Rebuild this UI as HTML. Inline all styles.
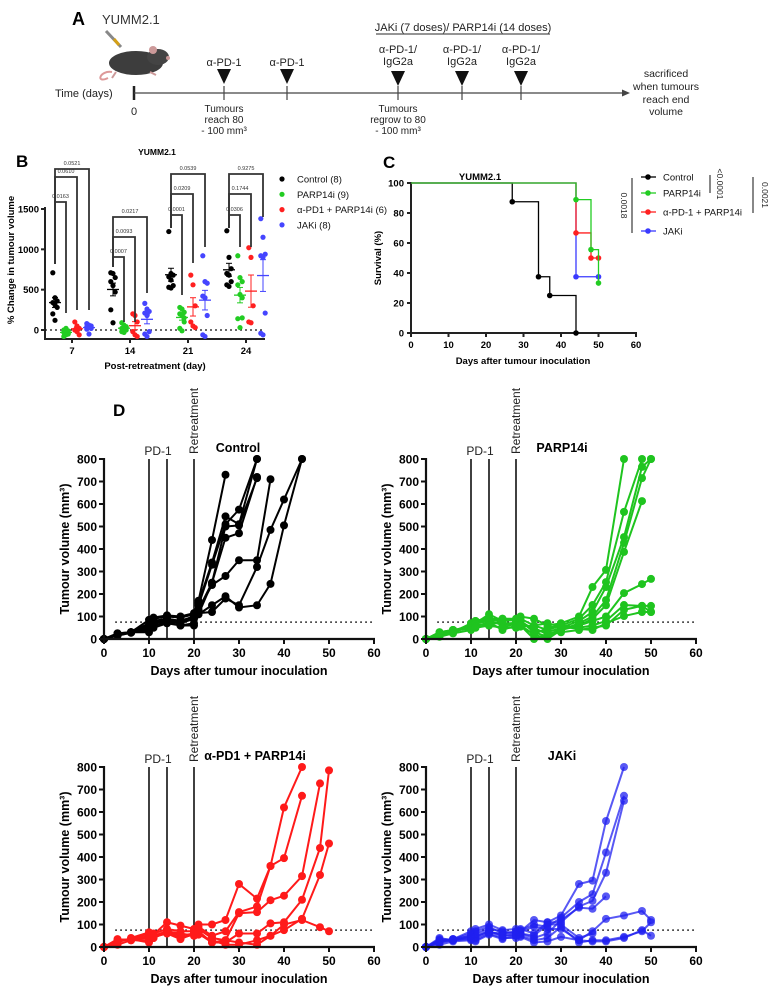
<!DOCTYPE html>
<html><head><meta charset="utf-8"><style>
html,body{margin:0;padding:0;background:#fff;}
svg{display:block;font-family:"Liberation Sans",sans-serif;}
.n{font-family:"Liberation Sans Narrow","Liberation Sans",sans-serif;}
</style></head><body>
<svg id="fig" width="781" height="999" viewBox="0 0 781 999" xmlns="http://www.w3.org/2000/svg">
<!-- Panel A schematic -->
<g id="panelA">
  <text x="72" y="25" font-size="18" font-weight="bold">A</text>
  <text x="102" y="24" font-size="13" class="n" fill="#333">YUMM2.1</text>
  <g>
    <line x1="106" y1="31" x2="121" y2="47" stroke="#888" stroke-width="3"/>
    <line x1="114" y1="39" x2="119" y2="45" stroke="#d4a017" stroke-width="3"/>
    <path d="M108 78 C 95 84, 100 70, 112 72" stroke="#d99" stroke-width="2" fill="none"/>
    <ellipse cx="136" cy="63" rx="27" ry="12" fill="#3d3d3d"/>
    <ellipse cx="158" cy="57" rx="11" ry="8" fill="#444"/>
    <circle cx="153" cy="50" r="4" fill="#c99"/>
    <circle cx="168" cy="58" r="2" fill="#c99"/>
    <path d="M116 72 L 112 78 M150 72 L 156 75" stroke="#c99" stroke-width="2"/>
  </g>
  <text x="55" y="97" font-size="11" class="n" fill="#222">Time (days)</text>
  <line x1="134" y1="86" x2="134" y2="100" stroke="#222" stroke-width="2.5"/>
  <line x1="134" y1="93" x2="624" y2="93" stroke="#444" stroke-width="1.3"/>
  <polygon points="630,93 622,89.5 622,96.5" fill="#444"/>
  <text x="134" y="115" font-size="11" class="n" text-anchor="middle" fill="#222">0</text>
  <g id="tlmarks" font-size="10.5" class="n" fill="#222" text-anchor="middle"></g>
  <text x="463" y="31" font-size="11" class="n" text-anchor="middle" fill="#222">JAKi (7 doses)/ PARP14i (14 doses)</text>
  <line x1="376" y1="34" x2="550" y2="34" stroke="#555" stroke-width="1.3"/>
  <g font-size="10.5" class="n" fill="#222" text-anchor="middle">
    <text x="666" y="77">sacrificed</text><text x="666" y="90">when tumours</text><text x="666" y="103">reach end</text><text x="666" y="115">volume</text>
  </g>
  <g font-size="10" class="n" fill="#222" text-anchor="middle">
    <text x="224" y="112">Tumours</text><text x="224" y="123">reach 80</text><text x="224" y="134">- 100 mm³</text>
  </g>
  <g font-size="10" class="n" fill="#222" text-anchor="middle">
    <text x="398" y="112">Tumours</text><text x="398" y="123">regrow to 80</text><text x="398" y="134">- 100 mm³</text>
  </g>
</g>
<g id="panelB"></g>
<g id="panelC"></g>
<text x="113" y="416" font-size="17" font-weight="bold">D</text>
<g id="panelD"></g>
</svg>
<script>
// ---------- Panel A data ----------
const tlTicks = [224, 287, 398, 462, 521];
const tlLabelsTop = [["α-PD-1"],["α-PD-1"],["α-PD-1/","IgG2a"],["α-PD-1/","IgG2a"],["α-PD-1/","IgG2a"]];

// ---------- Panel B data ----------
const bDays = ["7","14","21","24"];
const bGroups = ["Control (8)","PARP14i (9)","α-PD1 + PARP14i (6)","JAKi (8)"];
const bCtrl = [[710,400,360,340,310,280,200,120],[710,700,650,600,550,470,250,90],[1220,700,680,660,620,550,530,520],[1230,900,760,700,680,600,560,540]];
const bParp = [[-80,-60,-40,-30,-20,-10,0,20,-50],[90,60,40,20,10,0,-20,-30,30],[280,260,220,200,180,100,20,-10,150],[920,650,600,560,440,150,140,30,400]];
const bCombo = [[100,50,20,0,-20,-60],[200,180,100,-20,-60,-80],[680,560,300,100,50,30],[1020,900,300,100,90]];
const bJak = [[80,60,50,40,30,20,10,-50],[330,260,230,210,180,-20,-50,-80],[920,600,580,420,400,180,-60,-80],[1380,1150,940,920,900,210,-40,-60]];
const bTicks = [0,500,1000,1500];
// brackets: [dayIndex, groupIndex, topValue, leftBottomValue, rightBottomValue, label]
const bBrDay = [0,0,0,1,1,1,2,2,2,3,3,3];
const bBrGroup = [1,2,3,1,2,3,1,2,3,1,2,3];
const bBrTop = [1587,1897,1996,905,1153,1401,1426,1686,1934,1426,1686,1934];
const bBrLeft = [818,818,818,781,781,781,1265,1265,1265,1265,1265,1265];
const bBrRight = [211,248,248,99,99,459,434,831,1029,1029,1029,1401];
const bBrLabel = ["0.0163","0.0610","0.0521","0.0007","0.0093","0.0217","0.0001","0.0209","0.0539","0.0306","0.1744","0.9275"];

// ---------- Panel C data ----------
const cNames = ["Control","PARP14i","α-PD-1 + PARP14i","JAKi"];
const cTimes = [[0,27,34,37,44],[0,44,48,50],[0,44,48,50],[0,44,50]];
const cSurv = [[100,87.5,37.5,25,0],[100,88.9,55.6,33.3],[100,66.7,50,50],[100,37.5,37.5]];
const cTicksX = [0,10,20,30,40,50,60];
const cTicksY = [0,20,40,60,80,100];

// ---------- Panel D data ----------
const dDays = [0,3,6,10,11,14,17,20,21,24,27,30,34,37,40,44,48,50];
const dCtrl = [
 [0,25,30,85,95,105,100,115,170,440,730],
 [0,20,30,70,90,100,95,110,160,340,545,510,800],
 [0,15,28,60,80,90,80,100,150,330,510,575,800],
 [0,20,30,50,75,85,75,95,130,250,450,470,720],
 [0,18,30,55,80,90,80,100,130,240,280,350,350,710],
 [0,15,28,40,60,75,60,60,110,150,190,140,150,245,505,800],
 [0,20,30,45,70,80,70,90,115,120,180,150,320,485,620,800],
 [0,25,30,30,50,70,60,70,110,250,500,505,715]];
const dParp = [
 [0,20,35,60,70,110,80,85,100,90,60,70,100,231,307,800],
 [0,25,40,55,80,95,70,70,90,60,40,60,90,151,253,565,800],
 [0,15,30,70,80,90,90,80,80,30,10,50,80,120,231,453,765,800],
 [0,20,35,65,75,85,60,75,60,20,0,40,70,100,173,427,715,800],
 [0,30,40,50,70,80,90,90,70,50,20,40,60,90,150,387,613],
 [0,25,35,60,60,70,70,60,80,40,30,50,60,80,100,204,244,267],
 [0,20,30,55,65,60,50,70,60,20,50,60,50,60,80,151,147,147],
 [0,30,40,45,55,75,40,60,55,60,70,55,45,40,70,102,120,120],
 [0,10,25,40,50,60,50,50,60,0,20,30,40,50,60,130,147,120]];
const dCombo = [
 [0,30,35,60,55,110,95,80,100,100,120,280,215,360,620,800],
 [0,35,30,50,60,80,70,70,90,50,70,155,180,360,395,672],
 [0,20,40,65,50,70,50,60,80,40,30,150,155,208,228,315,727],
 [0,10,30,30,40,65,40,55,70,20,20,60,60,105,110,210,440,785],
 [0,25,35,20,40,70,60,50,60,20,30,20,10,50,75,125,320,460],
 [0,30,35,40,45,60,35,60,55,30,10,10,30,50,100,120,88,70]];
const dJak = [
 [0,30,35,60,80,100,75,80,80,60,110,140,280,295,560,800],
 [0,40,30,50,70,90,60,70,75,100,90,130,200,235,420,672],
 [0,20,35,70,60,80,70,60,70,120,110,110,180,205,330,650],
 [0,25,30,45,50,70,50,50,60,40,60,120,175,170,225],
 [0,35,30,40,40,65,60,60,70,90,80,80,30,70,125,140,160,120],
 [0,10,25,30,30,60,40,40,50,30,40,90,20,30,30,45,70,110],
 [0,20,30,35,25,55,35,50,45,20,25,45,30,25,25,40,75,50],
 [0,30,35,50,45,70,50,55,60,50,100,100,40,60]];
const dTicksX = [0,10,20,30,40,50,60];
const dTicksY = [0,100,200,300,400,500,600,700,800];
const dTitles = ["Control","PARP14i","α-PD1 + PARP14i","JAKi"];
const dDoses = [10,14,20];
const dThreshold = 75;

const NS = "http://www.w3.org/2000/svg";
function mk(tag, parent, attrs){
  const e = document.createElementNS(NS, tag);
  for (const k in attrs) e.setAttribute(k, attrs[k]);
  parent.appendChild(e);
  return e;
}
function txt(parent, x, y, s, attrs){
  const t = mk("text", parent, Object.assign({x:x, y:y}, attrs||{}));
  t.textContent = s;
  return t;
}

// ---- Panel A marks ----
(function(){
  const g = document.getElementById("tlmarks");
  tlTicks.forEach((x,i)=>{
    const ln = mk("line", g, {x1:x,y1:86,x2:x,y2:100,stroke:"#444","stroke-width":1.2});
    
    
    const lab = tlLabelsTop[i];
    const triTop = lab.length===1 ? 69 : 71;
    const tri = mk("polygon", g, {points:`${x-7},${triTop} ${x+7},${triTop} ${x},${triTop+15}`, fill:"#111"});
    
    
    lab.forEach((s,j)=>{
      const y = lab.length===1 ? 66 : 53 + j*12;
      const t = txt(g, x, y, s, {"font-size":11});
      
      
    });
  });
})();

// ---- Panel B ----
(function(){
  const g = document.getElementById("panelB");
  const colors = ["#000","#22cc22","#ff2020","#4545ff"];
  const groupsData = [bCtrl,bParp,bCombo,bJak];
  const x0=45, x1=265, catX0=72, catStep=58, offs=[-17,-6,5,17];
  const y = v => 330 - v*(121/1500);
  const cx = (d,gi) => catX0 + d*catStep + offs[gi];
  txt(g, 16, 167, "B", {"font-size":17,"font-weight":"bold"});
  const tt = txt(g, 157, 155, "YUMM2.1", {"font-size":8.5,"font-weight":"bold","text-anchor":"middle"});
  
  
  // axes
  const ya = mk("line", g, {x1:x0,y1:207,x2:x0,y2:340,stroke:"#222","stroke-width":2});
  
  
  const xa = mk("line", g, {x1:x0-1,y1:339,x2:x1,y2:339,stroke:"#222","stroke-width":2});
  
  
  const zl = mk("line", g, {x1:x0,y1:y(0),x2:x1,y2:y(0),stroke:"#111","stroke-width":1.2,"stroke-dasharray":"2,3"});
  
  
  bTicks.forEach(v=>{
    mk("line", g, {x1:x0-4,y1:y(v),x2:x0,y2:y(v),stroke:"#222","stroke-width":2});
    const t = txt(g, x0-6, y(v)+3.5, String(v), {"font-size":9.5,"font-weight":"bold","text-anchor":"end"});
    
    
  });
  bDays.forEach((d,i)=>{
    const xx = catX0 + i*catStep;
    mk("line", g, {x1:xx,y1:339,x2:xx,y2:343,stroke:"#222","stroke-width":2});
    const t = txt(g, xx, 354, d, {"font-size":9.5,"font-weight":"bold","text-anchor":"middle"});
    
    
  });
  const yl = txt(g, 0, 0, "% Change in tumour volume", {"font-size":9.5,"font-weight":"bold","text-anchor":"middle",transform:"translate(14,260) rotate(-90)"});
  
  
  const xl = txt(g, 155, 369, "Post-retreatment (day)", {"font-size":9.5,"font-weight":"bold","text-anchor":"middle"});
  
  
  // points
  groupsData.forEach((gd,gi)=>{
    gd.forEach((vals,di)=>{
      const xc = cx(di,gi);
      vals.forEach((v,k)=>{
        const jit = ((k%3)-1)*2.2;
        const c = mk("circle", g, {cx:xc+jit, cy:y(v), r:2.6, fill:colors[gi]});
        
        
      });
      const m = vals.reduce((a,b)=>a+b,0)/vals.length;
      const sd = Math.sqrt(vals.reduce((a,b)=>a+(b-m)*(b-m),0)/(vals.length-1));
      const se = sd/Math.sqrt(vals.length);
      const ml = mk("line", g, {x1:xc-6,y1:y(m),x2:xc+6,y2:y(m),stroke:colors[gi],"stroke-width":1.3});
      
      
      mk("line", g, {x1:xc,y1:y(m+se),x2:xc,y2:y(m-se),stroke:colors[gi],"stroke-width":1});
      mk("line", g, {x1:xc-3,y1:y(m+se),x2:xc+3,y2:y(m+se),stroke:colors[gi],"stroke-width":1});
      mk("line", g, {x1:xc-3,y1:y(m-se),x2:xc+3,y2:y(m-se),stroke:colors[gi],"stroke-width":1});
    });
  });
  // brackets
  bBrLabel.forEach((lab,i)=>{
    const xl_ = cx(bBrDay[i],0), xr = cx(bBrDay[i],bBrGroup[i]);
    const p = mk("polyline", g, {points:`${xl_},${y(bBrLeft[i])} ${xl_},${y(bBrTop[i])} ${xr},${y(bBrTop[i])} ${xr},${y(bBrRight[i])}`, fill:"none", stroke:"#333","stroke-width":1.8});
    
    
    const t = txt(g, (xl_+xr)/2, y(bBrTop[i])-4, lab, {"font-size":5.5,"text-anchor":"middle",fill:"#333"});
    
    
  });
  // legend
  bGroups.forEach((nm,i)=>{
    const ly = 179 + i*15.3;
    const c = mk("circle", g, {cx:282, cy:ly, r:2.6, fill:colors[i]});
    
    
    const t = txt(g, 297, ly+3.5, nm, {"font-size":9.5,fill:"#111"});
    
    
  });
})();

// ---- Panel C ----
(function(){
  const g = document.getElementById("panelC");
  const colors = ["#000","#22cc22","#ff2020","#3a3aff"];
  const X = d => 411 + d*(225/60);
  const Y = v => 333 - v*1.5;
  txt(g, 383, 168, "C", {"font-size":17,"font-weight":"bold"});
  const tt = txt(g, 480, 180, "YUMM2.1", {"font-size":9.5,"font-weight":"bold","text-anchor":"middle"});
  
  
  const ya = mk("line", g, {x1:411,y1:182,x2:411,y2:334,stroke:"#222","stroke-width":2});
  
  
  const xa = mk("line", g, {x1:410,y1:333,x2:637,y2:333,stroke:"#222","stroke-width":2});
  
  
  cTicksY.forEach(v=>{
    mk("line", g, {x1:407,y1:Y(v),x2:411,y2:Y(v),stroke:"#222","stroke-width":2});
    const t = txt(g, 404, Y(v)+3.5, String(v), {"font-size":9.5,"font-weight":"bold","text-anchor":"end"});
    
    
  });
  cTicksX.forEach(v=>{
    mk("line", g, {x1:X(v),y1:333,x2:X(v),y2:337,stroke:"#222","stroke-width":2});
    const t = txt(g, X(v), 348, String(v), {"font-size":9.5,"font-weight":"bold","text-anchor":"middle"});
    
    
  });
  const yl = txt(g, 0, 0, "Survival (%)", {"font-size":9.5,"font-weight":"bold","text-anchor":"middle",transform:"translate(381,258) rotate(-90)"});
  
  
  const xl = txt(g, 523, 364, "Days after tumour inoculation", {"font-size":9.5,"font-weight":"bold","text-anchor":"middle"});
  
  
  [0,3,2,1].forEach(si=>{
    const t = cTimes[si], s = cSurv[si];
    let pts = `${X(t[0])},${Y(s[0])}`;
    for (let k=1;k<t.length;k++){ pts += ` ${X(t[k])},${Y(s[k-1])} ${X(t[k])},${Y(s[k])}`; }
    if (si===2) pts += ` ${X(50)},${Y(50)}`;
    const p = mk("polyline", g, {points:pts, fill:"none", stroke:colors[si], "stroke-width":1.3});
    
    
    for (let k=1;k<t.length;k++){
      const c = mk("circle", g, {cx:X(t[k]), cy:Y(s[k]), r:2.8, fill:colors[si]});
      
      
    }
  });
  const ly = [177,193,212,231];
  cNames.forEach((nm,i)=>{
    mk("line", g, {x1:641,y1:ly[i],x2:656,y2:ly[i],stroke:colors[i],"stroke-width":1.3});
    const c = mk("circle", g, {cx:648, cy:ly[i], r:2.8, fill:colors[i]});
    
    
    const t = txt(g, 663, ly[i]+3.5, nm, {"font-size":9.5,fill:"#111"});
    
    
  });
  const br = [[632,178,233,621,"0.0018"],[710,175,193,717,"<0.0001"],[753,177,213,762,"0.0021"]];
  br.forEach(b=>{
    const l = mk("line", g, {x1:b[0],y1:b[1],x2:b[0],y2:b[2],stroke:"#111","stroke-width":1});
    
    
    const t = txt(g, 0, 0, b[4], {"font-size":8.5,"text-anchor":"middle",fill:"#222",transform:`translate(${b[3]},${(b[1]+b[2])/2}) rotate(90)`});
    
    
  });
})();

// ---- Panel D ----
(function(){
  const root = document.getElementById("panelD");
  const sets = [dCtrl,dParp,dCombo,dJak];
  const cols = ["#000","#1fc41f","#ff1a1a","#2020f0"];
  const alphas = [1,1,1,0.75];
  const origins = [[104,639],[426,639],[104,947],[426,947]];
  const titleX = [238,562,255,562];
  sets.forEach((series,pi)=>{
    const g = mk("g", root, {});
    
    
    const [ox,oy] = origins[pi];
    const X = d => ox + d*(270/60);
    const Y = v => oy - v*0.225;
    // dose lines
    dDoses.forEach(d=>{
      const l = mk("line", g, {x1:X(d),y1:Y(800),x2:X(d),y2:oy,stroke:"#111","stroke-width":1.6});
      
      
    });
    const pd = txt(g, X(12), Y(800)-4, "PD-1", {"font-size":12,"text-anchor":"middle",fill:"#222"});
    
    
    const rt = txt(g, 0, 0, "Retreatment", {"font-size":12,fill:"#222",transform:`translate(${X(20)+4},${Y(800)-5}) rotate(-90)`});
    
    
    const ti = txt(g, titleX[pi], Y(800)-7, dTitles[pi], {"font-size":12.5,"font-weight":"bold","text-anchor":"middle"});
    
    
    const th = mk("line", g, {x1:X(2.5),y1:Y(dThreshold),x2:X(60),y2:Y(dThreshold),stroke:"#111","stroke-width":1.6,"stroke-dasharray":"1.6,3.4"});
    
    
    // series
    series.forEach(vals=>{
      const pts = vals.map((v,k)=>`${X(dDays[k])},${Y(v)}`).join(" ");
      const p = mk("polyline", g, {points:pts, fill:"none", stroke:cols[pi], "stroke-width":2, "stroke-opacity":alphas[pi]});
      
      
      vals.forEach((v,k)=>{
        const c = mk("circle", g, {cx:X(dDays[k]), cy:Y(v), r:4, fill:cols[pi], "fill-opacity":alphas[pi]});
        
        
      });
    });
    // axes
    const ya = mk("line", g, {x1:ox,y1:Y(800)-1,x2:ox,y2:oy+1,stroke:"#111","stroke-width":2.2});
    
    
    const xa = mk("line", g, {x1:ox-1,y1:oy,x2:X(60)+1,y2:oy,stroke:"#111","stroke-width":2.2});
    
    
    dTicksY.forEach(v=>{
      mk("line", g, {x1:ox-5,y1:Y(v),x2:ox,y2:Y(v),stroke:"#111","stroke-width":2});
      const t = txt(g, ox-7, Y(v)+4.5, String(v), {"font-size":12,"font-weight":"bold","text-anchor":"end"});
      
      
    });
    dTicksX.forEach(v=>{
      mk("line", g, {x1:X(v),y1:oy,x2:X(v),y2:oy+5,stroke:"#111","stroke-width":2});
      const t = txt(g, X(v), oy+18, String(v), {"font-size":12,"font-weight":"bold","text-anchor":"middle"});
      
      
    });
    const yl = txt(g, 0, 0, "Tumour volume (mm³)", {"font-size":12.5,"font-weight":"bold","text-anchor":"middle",transform:`translate(${ox-35},${oy-90}) rotate(-90)`});
    
    
    const xl = txt(g, X(30), oy+36, "Days after tumour inoculation", {"font-size":12.5,"font-weight":"bold","text-anchor":"middle"});
    
    
  });
})();
</script>
</body></html>
